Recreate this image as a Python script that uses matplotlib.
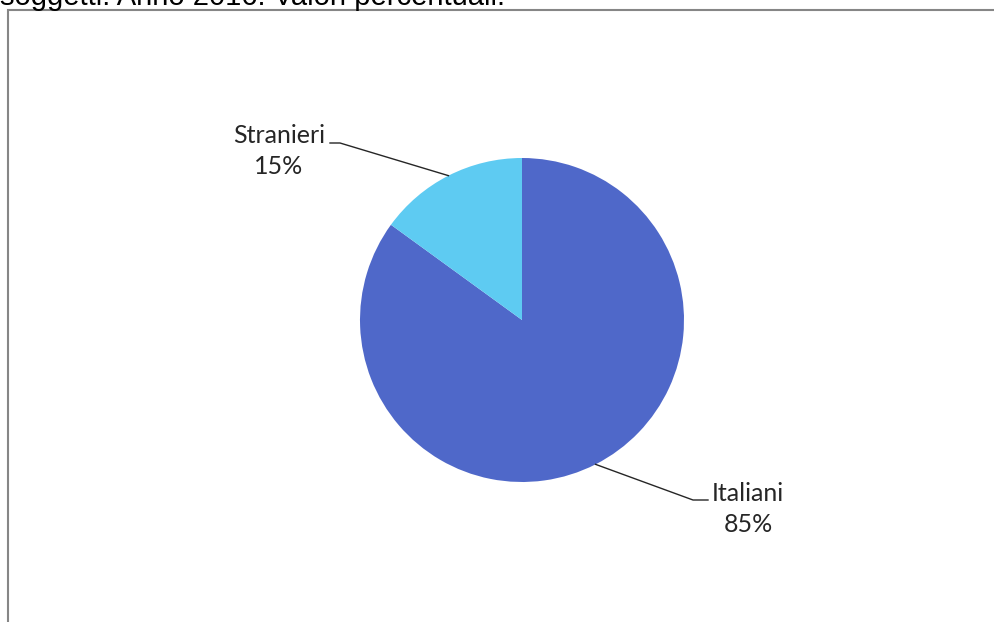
import numpy as np
import matplotlib.pyplot as plt
from matplotlib.patches import Rectangle

labels = ['Italiani', 'Stranieri']
values = [85, 15]
colors = ['#4F68C9', '#5ECBF2']
title = 'soggetti. Anno 2016. Valori percentuali.'

W, H = 994, 622
fig = plt.figure(figsize=(W / 100, H / 100), dpi=100)
ax = fig.add_axes([0, 0, 1, 1])

# frame of the chart area (cut off at the bottom and right in the original)
ax.add_patch(Rectangle((7.5, -20), 1000, H - 9.5 + 20, fill=False,
                       edgecolor='#868686', linewidth=1.5))

cx, cy, r = 522, H - 320, 162
wedges, _ = ax.pie(values, colors=colors, startangle=90, counterclock=False,
                   center=(cx, cy), radius=r, frame=True,
                   wedgeprops=dict(linewidth=0))
ax.set_xlim(0, W)
ax.set_ylim(0, H)
ax.set_aspect('equal')
ax.axis('off')

font = ['Lato', 'DejaVu Sans']
# leader elbows and label centre, in pixels
layout = {'Italiani': ((693, H - 500), (708, H - 500), (748, H - 509)),
          'Stranieri': ((340, H - 143), (330, H - 143), (279, H - 151))}
for w, lab, v in zip(wedges, labels, values):
    ang = np.deg2rad((w.theta1 + w.theta2) / 2)
    px, py = cx + r * np.cos(ang), cy + r * np.sin(ang)
    e1, e2, tp = layout[lab]
    ax.plot([px, e1[0], e2[0]], [py, e1[1], e2[1]], color='#262626', lw=1)
    ax.text(tp[0], tp[1], f'{lab}\n{v}%', ha='center', va='center',
            fontsize=18, family=font, color='#262626', linespacing=1.45)

fig.text(0, 1 - 5 / H, title, ha='left', va='baseline', fontsize=21,
         family=['Liberation Sans', 'DejaVu Sans'], color='black')

fig.savefig('out.png', dpi=100)
